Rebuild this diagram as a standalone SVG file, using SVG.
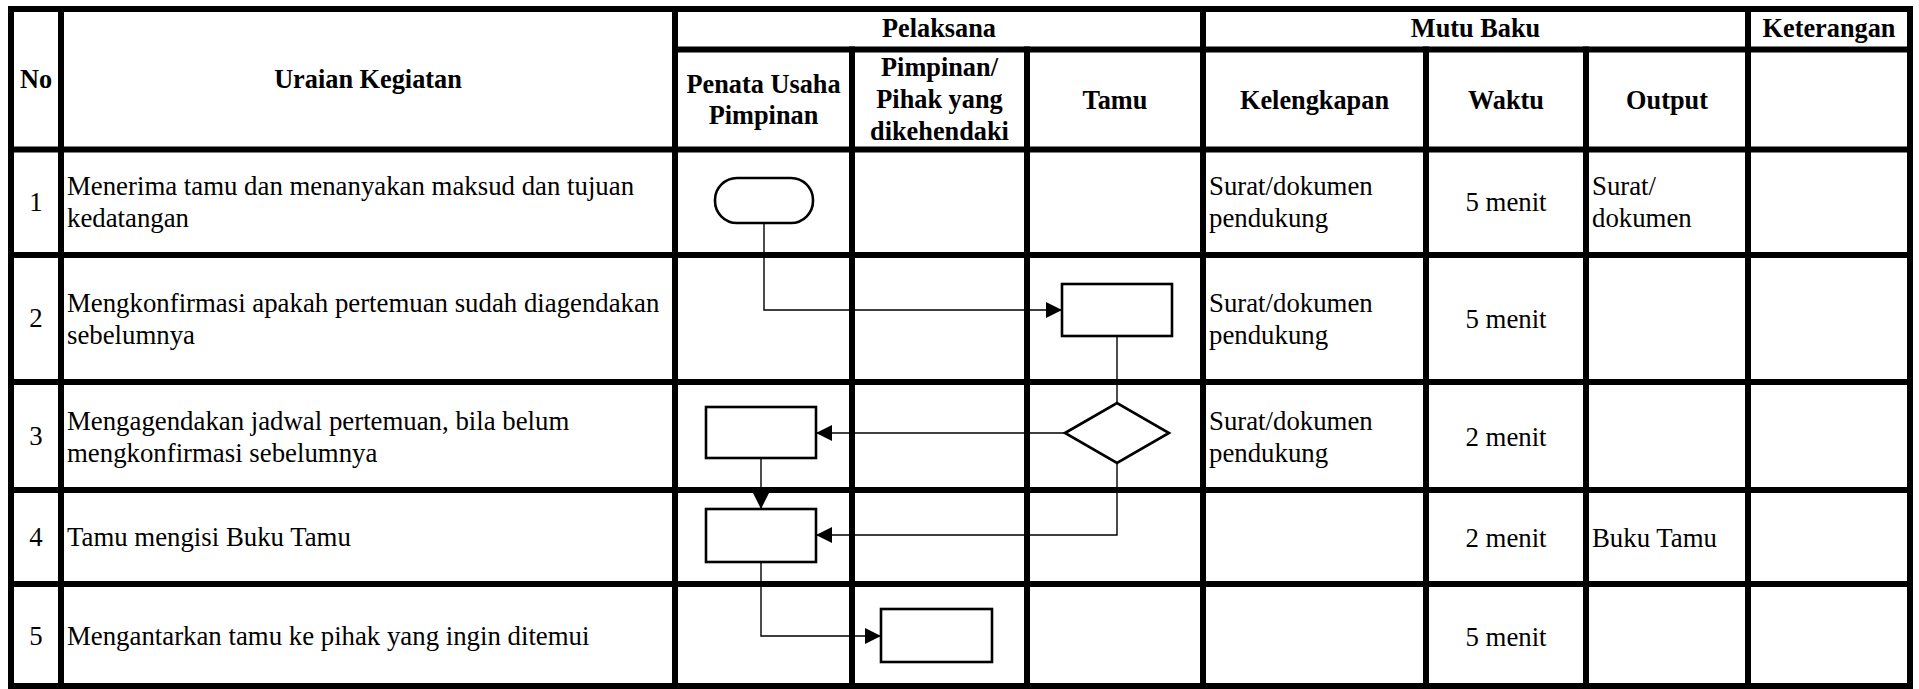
<svg xmlns="http://www.w3.org/2000/svg" width="1919" height="689" viewBox="0 0 1919 689">
<style>
.grid line{stroke:#000;stroke-width:6;stroke-linecap:square}
.h{font-family:'Liberation Serif','DejaVu Serif',serif;font-size:26.3px;font-weight:bold;fill:#000;text-anchor:middle}
.t{font-family:'Liberation Serif','DejaVu Serif',serif;font-size:26.8px;fill:#000}
.c{text-anchor:middle}
.shape{fill:#fff;stroke:#000;stroke-width:2.6}
.conn{fill:none;stroke:#000;stroke-width:1.4}
</style>
<defs>
<marker id="arr" markerUnits="userSpaceOnUse" markerWidth="18" markerHeight="16" refX="16" refY="8" orient="auto">
<path d="M0,0 L16,8 L0,16 Z" fill="#000"/>
</marker>
</defs>
<rect width="1919" height="689" fill="#fff"/>
<g class="grid">
<line x1="11" y1="9" x2="1910" y2="9"/>
<line x1="675" y1="49.5" x2="1910" y2="49.5"/>
<line x1="11" y1="149.5" x2="1910" y2="149.5"/>
<line x1="11" y1="255" x2="1910" y2="255"/>
<line x1="11" y1="382" x2="1910" y2="382"/>
<line x1="11" y1="490" x2="1910" y2="490"/>
<line x1="11" y1="584" x2="1910" y2="584"/>
<line x1="11" y1="686" x2="1910" y2="686"/>
<line x1="11" y1="9" x2="11" y2="686"/>
<line x1="61" y1="9" x2="61" y2="686"/>
<line x1="675" y1="9" x2="675" y2="686"/>
<line x1="852" y1="49.5" x2="852" y2="686"/>
<line x1="1027" y1="49.5" x2="1027" y2="686"/>
<line x1="1203" y1="9" x2="1203" y2="686"/>
<line x1="1426" y1="49.5" x2="1426" y2="686"/>
<line x1="1586" y1="49.5" x2="1586" y2="686"/>
<line x1="1748" y1="9" x2="1748" y2="686"/>
<line x1="1910" y1="9" x2="1910" y2="686"/>
</g>
<g id="header" font-family="Liberation Serif, serif">
<text class="h" x="36" y="88">No</text>
<text class="h" x="368" y="88">Uraian Kegiatan</text>
<text class="h" x="939" y="37">Pelaksana</text>
<text class="h" x="1475.5" y="37">Mutu Baku</text>
<text class="h" x="1829" y="37">Keterangan</text>
<text class="h" x="763.5" y="93">Penata Usaha</text>
<text class="h" x="763.5" y="124">Pimpinan</text>
<text class="h" x="939.5" y="76">Pimpinan/</text>
<text class="h" x="939.5" y="108">Pihak yang</text>
<text class="h" x="939.5" y="140">dikehendaki</text>
<text class="h" x="1115" y="109">Tamu</text>
<text class="h" x="1314.5" y="109">Kelengkapan</text>
<text class="h" x="1506" y="109">Waktu</text>
<text class="h" x="1667" y="109">Output</text>
</g>
<g id="rows" font-family="Liberation Serif, serif">
<text class="t c" x="36" y="211">1</text>
<text class="t" x="67" y="195">Menerima tamu dan menanyakan maksud dan tujuan</text>
<text class="t" x="67" y="227">kedatangan</text>
<text class="t" x="1209" y="195">Surat/dokumen</text>
<text class="t" x="1209" y="227">pendukung</text>
<text class="t c" x="1506" y="211">5 menit</text>
<text class="t" x="1592" y="195">Surat/</text>
<text class="t" x="1592" y="227">dokumen</text>

<text class="t c" x="36" y="327">2</text>
<text class="t" x="67" y="312">Mengkonfirmasi apakah pertemuan sudah diagendakan</text>
<text class="t" x="67" y="344">sebelumnya</text>
<text class="t" x="1209" y="312">Surat/dokumen</text>
<text class="t" x="1209" y="344">pendukung</text>
<text class="t c" x="1506" y="328">5 menit</text>

<text class="t c" x="36" y="445">3</text>
<text class="t" x="67" y="430">Mengagendakan jadwal pertemuan, bila belum</text>
<text class="t" x="67" y="462">mengkonfirmasi sebelumnya</text>
<text class="t" x="1209" y="430">Surat/dokumen</text>
<text class="t" x="1209" y="462">pendukung</text>
<text class="t c" x="1506" y="446">2 menit</text>

<text class="t c" x="36" y="546">4</text>
<text class="t" x="67" y="546">Tamu mengisi Buku Tamu</text>
<text class="t c" x="1506" y="547">2 menit</text>
<text class="t" x="1592" y="547">Buku Tamu</text>

<text class="t c" x="36" y="645">5</text>
<text class="t" x="67" y="645">Mengantarkan tamu ke pihak yang ingin ditemui</text>
<text class="t c" x="1506" y="646">5 menit</text>
</g>
<g id="connectors">
<polyline class="conn" points="764,223 764,310 1062,310" marker-end="url(#arr)"/>
<polyline class="conn" points="1117,336 1117,403"/>
<polyline class="conn" points="1065,433 816,433" marker-end="url(#arr)"/>
<polyline class="conn" points="761,458 761,509" marker-end="url(#arr)"/>
<polyline class="conn" points="1117,463 1117,535 816,535" marker-end="url(#arr)"/>
<polyline class="conn" points="761,562 761,636 881,636" marker-end="url(#arr)"/>
</g>
<g id="n1"><rect class="shape" x="715" y="178" width="98" height="45" rx="22" ry="22"/></g>
<g id="n2"><rect class="shape" x="1062" y="284" width="110" height="52"/></g>
<g id="n3"><polygon class="shape" points="1065,433 1117,403 1169,433 1117,463"/></g>
<g id="n4"><rect class="shape" x="706" y="407" width="110" height="51"/></g>
<g id="n5"><rect class="shape" x="706" y="509" width="110" height="53"/></g>
<g id="n6"><rect class="shape" x="881" y="609" width="111" height="53"/></g>
</svg>
